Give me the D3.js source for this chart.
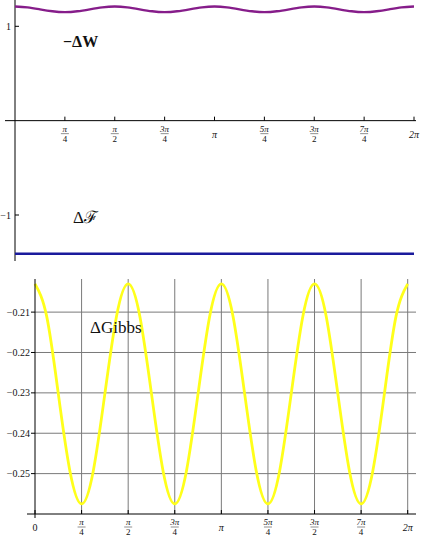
<!DOCTYPE html>
<html>
<head>
<meta charset="utf-8">
<script src="https://cdn.jsdelivr.net/npm/d3@7"></script>
<style>
  body { margin: 0; background: #fff; }
  svg { display: block; }
  text { font-family: "Liberation Serif", "Times New Roman", "DejaVu Serif", serif; fill: #111; }
  .grid line { stroke: #7a7a7a; stroke-width: 1; }
</style>
</head>
<body>
<svg id="chart" width="425" height="543"></svg>
<script>
const xSteps = d3.range(0, 33)

// top panel: -dW (purple), dF (blue)
const workVals = [1.210, 1.201, 1.180, 1.159, 1.150, 1.159, 1.180, 1.201,
                  1.210, 1.201, 1.180, 1.159, 1.150, 1.159, 1.180, 1.201,
                  1.210, 1.201, 1.180, 1.159, 1.150, 1.159, 1.180, 1.201,
                  1.210, 1.201, 1.180, 1.159, 1.150, 1.159, 1.180, 1.201, 1.210]
const freeVals = [-1.41, -1.41, -1.41, -1.41, -1.41, -1.41, -1.41, -1.41,
                  -1.41, -1.41, -1.41, -1.41, -1.41, -1.41, -1.41, -1.41,
                  -1.41, -1.41, -1.41, -1.41, -1.41, -1.41, -1.41, -1.41,
                  -1.41, -1.41, -1.41, -1.41, -1.41, -1.41, -1.41, -1.41, -1.41]

// bottom panel: dGibbs (yellow)
const gibbsVals = [-0.2030, -0.2110, -0.2302, -0.2494, -0.2575, -0.2494, -0.2302, -0.2110,
                   -0.2030, -0.2110, -0.2302, -0.2494, -0.2575, -0.2494, -0.2302, -0.2110,
                   -0.2030, -0.2110, -0.2302, -0.2494, -0.2575, -0.2494, -0.2302, -0.2110,
                   -0.2030, -0.2110, -0.2302, -0.2494, -0.2575, -0.2494, -0.2302, -0.2110, -0.2030]

// tick labels: [multiple of pi/4, numerator, denominator] ("" denominator = plain label)
const piTicks = [[0, "0", ""], [1, "π", "4"], [2, "π", "2"], [3, "3π", "4"], [4, "π", ""],
                 [5, "5π", "4"], [6, "3π", "2"], [7, "7π", "4"], [8, "2π", ""]]
const topYTicks = [1, -1]
const bottomYTicks = [-0.21, -0.22, -0.23, -0.24, -0.25]

const svg = d3.select("#chart")
const toX = i => xSteps[i] * Math.PI / 16

function piLabels(g, scale, ticks, y0) {
  ticks.forEach(t => {
    let x = scale(t[0] * Math.PI / 4)
    if (t[2] === "") {
      g.append("text").attr("x", x).attr("y", y0 + 8)
        .attr("text-anchor", "middle").attr("font-size", 10)
        .attr("font-style", t[1] === "0" ? "normal" : "italic")
        .text(t[1])
    } else {
      g.append("text").attr("x", x).attr("y", y0 + 2)
        .attr("text-anchor", "middle").attr("font-size", 9).attr("font-style", "italic")
        .text(t[1])
      g.append("line").attr("x1", x - 4).attr("x2", x + 4)
        .attr("y1", y0 + 4).attr("y2", y0 + 4)
        .attr("stroke", "#444").attr("stroke-width", 0.6)
      g.append("text").attr("x", x).attr("y", y0 + 12)
        .attr("text-anchor", "middle").attr("font-size", 9)
        .text(t[2])
    }
  })
}

// ---------- top panel ----------
let xTop = d3.scaleLinear().domain([0, 2 * Math.PI]).range([15, 414])
let yTop = d3.scaleLinear().domain([-1, 1]).range([215, 26.3])
let topG = svg.append("g")

topG.append("line").attr("x1", 5).attr("x2", 416)
  .attr("y1", yTop(0)).attr("y2", yTop(0)).attr("stroke", "black")
topG.append("line").attr("x1", xTop(0)).attr("x2", xTop(0))
  .attr("y1", 0).attr("y2", 261).attr("stroke", "black")

piTicks.slice(1).forEach(t => {
  let x = xTop(t[0] * Math.PI / 4)
  topG.append("line").attr("x1", x).attr("x2", x)
    .attr("y1", yTop(0)).attr("y2", yTop(0) - 4).attr("stroke", "black")
})
piLabels(topG, xTop, piTicks.slice(1), yTop(0) + 9)

topYTicks.forEach(v => {
  topG.append("line").attr("x1", xTop(0)).attr("x2", xTop(0) + 4)
    .attr("y1", yTop(v)).attr("y2", yTop(v)).attr("stroke", "black")
  topG.append("text").attr("x", 11).attr("y", yTop(v) + 3.5)
    .attr("text-anchor", "end").attr("font-size", 10)
    .text(v < 0 ? "−" + Math.abs(v) : v)
})

let lineTop = d3.line().x((d, i) => xTop(toX(i))).y(d => yTop(d)).curve(d3.curveNatural)
topG.append("path").datum(workVals).attr("d", lineTop)
  .attr("fill", "none").attr("stroke", "#861d8a").attr("stroke-width", 2.4)
topG.append("path").datum(freeVals).attr("d", lineTop)
  .attr("fill", "none").attr("stroke", "#1a1a9c").attr("stroke-width", 2.4)

topG.append("text").attr("x", 63).attr("y", 47)
  .attr("font-size", 16).attr("font-weight", "bold").text("−ΔW")
topG.append("text").attr("x", 73).attr("y", 223)
  .attr("font-size", 17).text("Δℱ")

// ---------- bottom panel ----------
let xBot = d3.scaleLinear().domain([0, 2 * Math.PI]).range([35, 407.7])
let yBot = d3.scaleLinear().domain([-0.26, -0.2018]).range([514, 279])
let botG = svg.append("g")
let grid = botG.append("g").attr("class", "grid")

piTicks.slice(1).forEach(t => {
  let x = xBot(t[0] * Math.PI / 4)
  grid.append("line").attr("x1", x).attr("x2", x)
    .attr("y1", yBot.range()[1]).attr("y2", yBot(-0.26))
})
bottomYTicks.forEach(v => {
  grid.append("line").attr("x1", xBot(0)).attr("x2", 416)
    .attr("y1", yBot(v)).attr("y2", yBot(v))
})

let lineBot = d3.line().x((d, i) => xBot(toX(i))).y(d => yBot(d)).curve(d3.curveNatural)
botG.append("path").datum(gibbsVals).attr("d", lineBot)
  .attr("fill", "none").attr("stroke", "#ffff1a").attr("stroke-width", 2.8)

botG.append("line").attr("x1", 27).attr("x2", 416)
  .attr("y1", yBot(-0.26)).attr("y2", yBot(-0.26)).attr("stroke", "black")
botG.append("line").attr("x1", xBot(0)).attr("x2", xBot(0))
  .attr("y1", 279).attr("y2", 518).attr("stroke", "black")

bottomYTicks.forEach(v => {
  botG.append("line").attr("x1", xBot(0) - 4).attr("x2", xBot(0))
    .attr("y1", yBot(v)).attr("y2", yBot(v)).attr("stroke", "black")
  botG.append("text").attr("x", 30).attr("y", yBot(v) + 3.5)
    .attr("text-anchor", "end").attr("font-size", 10)
    .text("−" + d3.format(".2f")(Math.abs(v)))
})
piTicks.forEach(t => {
  let x = xBot(t[0] * Math.PI / 4)
  botG.append("line").attr("x1", x).attr("x2", x)
    .attr("y1", yBot(-0.26)).attr("y2", yBot(-0.26) - 4).attr("stroke", "black")
})
piLabels(botG, xBot, piTicks, yBot(-0.26) + 9)

botG.append("text").attr("x", 90).attr("y", 333)
  .attr("font-size", 17).text("ΔGibbs")
</script>
</body>
</html>
